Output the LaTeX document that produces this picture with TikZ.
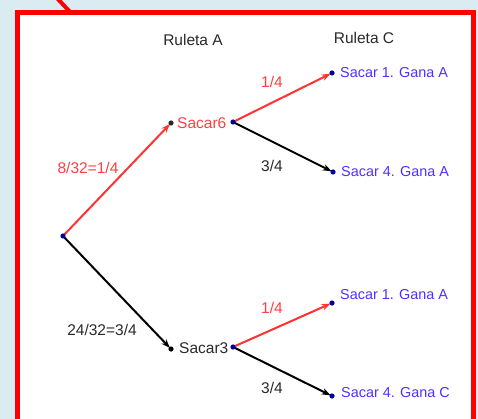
\documentclass[tikz,border=0pt]{standalone}
\usepackage{fontspec}
\setmainfont{Liberation Sans}
\usetikzlibrary{arrows.meta}
\definecolor{bgblue}{HTML}{DBEBF2}
\definecolor{frame}{HTML}{FF0000}
\definecolor{redline}{HTML}{FF3333}
\definecolor{redtxt}{HTML}{FF4040}
\definecolor{bluetxt}{HTML}{5030FF}
\definecolor{dotblue}{HTML}{0000A0}
\definecolor{graytxt}{HTML}{2A2A2A}
\tikzset{
  lbl/.style={font=\fontsize{15.5}{18}\selectfont, inner sep=0pt},
  blbl/.style={font=\fontsize{14.4}{17}\selectfont, text=bluetxt, inner sep=0pt, anchor=west},
  redarr/.style={draw=redline, line width=2pt, -{Stealth[length=9pt,width=6.5pt]}, shorten >=1.5pt},
  blkarr/.style={draw=black, line width=2pt, -{Stealth[length=9pt,width=6.5pt]}, shorten >=1.5pt},
}
\begin{document}
\begin{tikzpicture}[x=1pt,y=-1pt]
\useasboundingbox (0,0) rectangle (478,419);
\fill[bgblue] (0,0) rectangle (478,419);
\begin{scope}
\clip (0,0) rectangle (478,419);
\draw[frame, line width=4pt] (55,-4) -- (72,14);
\fill[white] (17.5,12.5) rectangle (473.5,425);
\draw[frame, line width=5pt] (17.5,425) -- (17.5,12.5) -- (473.5,12.5) -- (473.5,425);
\end{scope}

% points
\coordinate (root) at (63,236);
\coordinate (s6in) at (171,123);
\coordinate (s6out) at (233,122);
\coordinate (a1) at (332,73);
\coordinate (a4) at (333,172);
\coordinate (s3in) at (171,349);
\coordinate (s3out) at (233,347);
\coordinate (c1) at (332,303);
\coordinate (c4) at (332,396);

% headers
\node[lbl, text=graytxt] (rA) at (193,40) {Ruleta A};
\node[lbl, text=graytxt] (rC) at (364,38) {Ruleta C};

% connectors
\draw[redarr] (root) -- (s6in);
\draw[blkarr] (root) -- (s3in);
\draw[redarr] (s6out) -- (a1);
\draw[blkarr] (s6out) -- (a4);
\draw[redarr] (s3out) -- (c1);
\draw[blkarr] (s3out) -- (c4);

% dots
\foreach \p in {root,s6out,a1,a4,s3out,c1,c4}
  \fill[dotblue] (\p) circle (2.6pt);
\fill[graytxt] (s6in) circle (2.6pt);
\fill[black] (s3in) circle (2.6pt);

% labels of nodes
\node[lbl, text=redtxt, anchor=west] (t6) at (177,123) {Sacar6};
\node[lbl, text=graytxt, anchor=west] (t3) at (179,348) {Sacar3};
\node[blbl] (ta1) at (340,73) {Sacar 1. Gana A};
\node[blbl] (ta4) at (341,172) {Sacar 4. Gana A};
\node[blbl] (tc1) at (340,295) {Sacar 1. Gana A};
\node[blbl] (tc4) at (341,393) {Sacar 4. Gana C};

% edge labels
\node[lbl, text=redtxt] (p1) at (88,168) {8/32=1/4};
\node[lbl, text=graytxt] (p2) at (102,330) {24/32=3/4};
\node[lbl, text=redtxt] (p3) at (272,82) {1/4};
\node[lbl, text=graytxt] (p4) at (272,166) {3/4};
\node[lbl, text=redtxt] (p5) at (272,308) {1/4};
\node[lbl, text=graytxt] (p6) at (272,388) {3/4};
\end{tikzpicture}
\end{document}
